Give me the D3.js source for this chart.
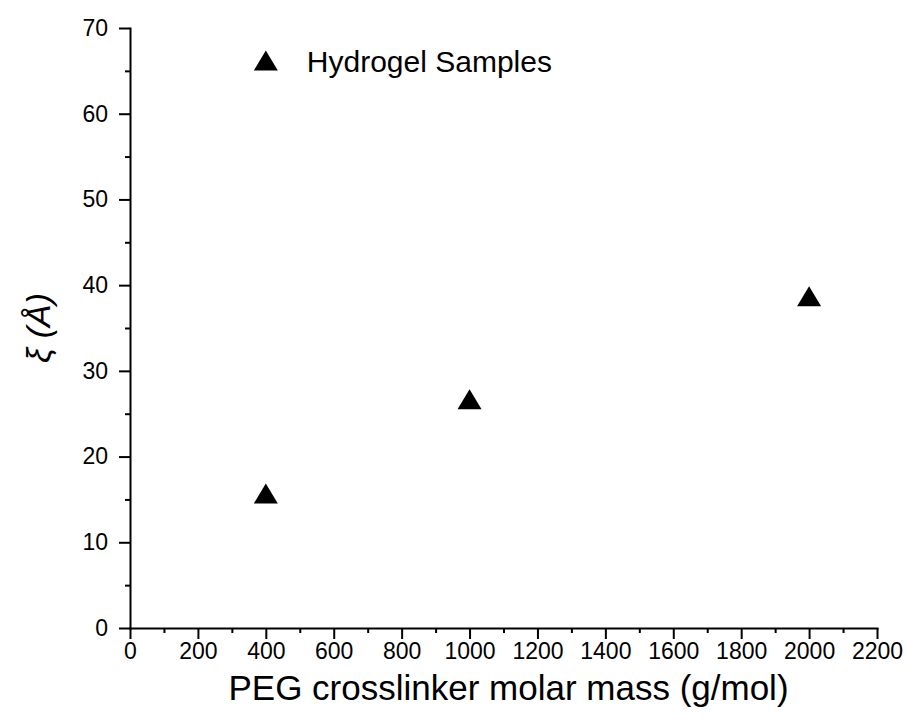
<!DOCTYPE html>
<html>
<head>
<meta charset="utf-8">
<script src="https://cdn.jsdelivr.net/npm/d3@7"></script>
<style>
  body { margin: 0; background: #fff; }
  svg text { font-family: Arial, "Liberation Sans", sans-serif; fill: #000; }
</style>
</head>
<body>
<div id="chart"></div>
<script>
// data
const massValues = [400, 1000, 2000];
const xiValues = [15.7, 26.7, 38.7];
const seriesName = "Hydrogel Samples";
const xTicks = [0, 200, 400, 600, 800, 1000, 1200, 1400, 1600, 1800, 2000, 2200];
const yTicks = [0, 10, 20, 30, 40, 50, 60, 70];

const W = 908, H = 727;
const margin = { top: 28, right: 31, bottom: 99, left: 130 };
const width = W - margin.left - margin.right;
const height = H - margin.top - margin.bottom;

const svg = d3.select("#chart")
  .append("svg")
    .attr("width", W)
    .attr("height", H)
  .append("g")
    .attr("transform", `translate(${margin.left},${margin.top})`);

const x = d3.scaleLinear().domain([0, 2200]).range([0, width]);
const y = d3.scaleLinear().domain([0, 70]).range([height, 0]);

// minor ticks halfway between majors
const xMinor = d3.range(100, 2200, 200);
const yMinor = d3.range(5, 70, 10);

// x axis
svg.append("g")
  .attr("transform", `translate(0,${height})`)
  .call(d3.axisBottom(x).tickValues(xMinor).tickSize(5).tickSizeOuter(0).tickFormat(""))
  .call(g => g.select(".domain").remove());
const xAxis = svg.append("g")
  .attr("transform", `translate(0,${height})`)
  .call(d3.axisBottom(x).tickValues(xTicks).tickSize(11).tickSizeOuter(0)
    .tickPadding(4).tickFormat(d3.format("d")));
xAxis.selectAll("text").style("font-size", "23px");

// y axis
svg.append("g")
  .call(d3.axisLeft(y).tickValues(yMinor).tickSize(5).tickSizeOuter(0).tickFormat(""))
  .call(g => g.select(".domain").remove());
const yAxis = svg.append("g")
  .call(d3.axisLeft(y).tickValues(yTicks).tickSize(11).tickSizeOuter(0)
    .tickPadding(11).tickFormat(d3.format("d")));
yAxis.selectAll("text").style("font-size", "23px");

svg.selectAll(".domain, .tick line")
  .attr("stroke", "#000")
  .attr("stroke-width", 2);
svg.selectAll(".domain").attr("stroke-linecap", "square");

// triangle marker centred on its bounding box
const tri = (cx, cy) => {
  const hw = 12, hh = 10;
  return `M${cx - hw},${cy + hh}L${cx + hw},${cy + hh}L${cx},${cy - hh}Z`;
};

svg.selectAll("path.pt")
  .data(massValues)
  .enter()
  .append("path")
    .attr("class", "pt")
    .attr("d", (d, i) => tri(x(d), y(xiValues[i])))
    .attr("fill", "#000");

// legend
const legend = svg.append("g").attr("transform", `translate(${x(400)},${y(66.2)})`);
legend.append("path").attr("d", tri(0, 0)).attr("fill", "#000");
legend.append("text")
  .attr("x", 41)
  .attr("y", 11)
  .style("font-size", "30px")
  .text(seriesName);

// axis titles
svg.append("text")
  .attr("x", width / 2 + 5)
  .attr("y", height + 72)
  .style("text-anchor", "middle")
  .style("font-size", "35px")
  .text("PEG crosslinker molar mass (g/mol)");

svg.append("text")
  .attr("transform", `translate(-80,${height / 2}) rotate(-90)`)
  .style("text-anchor", "middle")
  .style("font-size", "34px")
  .style("font-style", "italic")
  .text("ξ (Å)");
</script>
</body>
</html>
